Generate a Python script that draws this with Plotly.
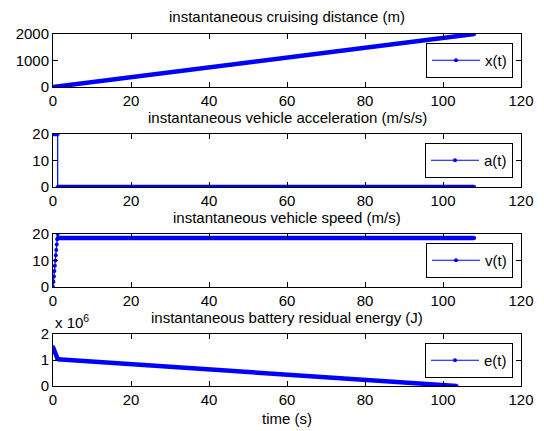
import plotly.graph_objects as go

# ---------------- data ----------------
X_T = [0, 108]
X_V = [0, 2000]

A_T = [0, 1.2, 1.2, 108]
A_V = [20, 20, 0, 0]

V_T = [0, 0.12, 0.24, 0.36, 0.48, 0.6, 0.72, 0.84, 0.96, 1.08, 1.2, 1.2, 108]
V_V = [0, 2, 4, 6, 8, 10, 12, 14, 16, 18, 20, 18.5, 18.5]

E_T = [0, 1.2, 103.5]
E_V = [1.5e6, 1.03e6, 0]

TITLES = [
    "instantaneous cruising distance (m)",
    "instantaneous vehicle acceleration (m/s/s)",
    "instantaneous vehicle speed (m/s)",
    "instantaneous battery residual energy (J)",
]
NAMES = ["x(t)", "a(t)", "v(t)", "e(t)"]
X_TICKS = [0, 20, 40, 60, 80, 100, 120]
Y_TICKS = [[0, 1000, 2000], [0, 10, 20], [0, 10, 20], [0, 1e6, 2e6]]
Y_TICKTEXT = [["0", "1000", "2000"], ["0", "10", "20"], ["0", "10", "20"], ["0", "1", "2"]]
Y_RANGES = [[0, 2000], [0, 20], [0, 20], [0, 2e6]]

SERIES = [(X_T, X_V), (A_T, A_V), (V_T, V_V), (E_T, E_V)]

# ---------------- layout geometry ----------------
W, H = 544, 431
L, R = 53, 23
TOPS = [34, 134, 234, 334]
BOTS = [87, 187, 287, 386]
FONT = "Liberation Sans, Arial, Helvetica, sans-serif"
FS = 15
BLUE = "rgb(0,0,255)"

fig = go.Figure()
layout = dict(
    width=W, height=H,
    margin=dict(l=L, r=R, t=0, b=0, autoexpand=False),
    paper_bgcolor="white", plot_bgcolor="white",
    font=dict(family=FONT, size=FS, color="black"),
    annotations=[],
)

for i, ((t, v), name) in enumerate(zip(SERIES, NAMES)):
    n = i + 1
    xa = "x" if n == 1 else f"x{n}"
    ya = "y" if n == 1 else f"y{n}"
    leg = "legend" if n == 1 else f"legend{n}"
    # thick (densely sampled) segments
    tt, vv = [], []
    for k in range(len(t) - 1):
        if t[k + 1] - t[k] > 0.5:
            tt += [t[k], t[k + 1], None]
            vv += [v[k], v[k + 1], None]
    fig.add_trace(go.Scatter(x=tt, y=vv, mode="lines", line=dict(color=BLUE, width=4.5),
                             showlegend=False, xaxis=xa, yaxis=ya, hoverinfo="skip"))
    fig.add_trace(go.Scatter(x=t, y=v, mode="lines+markers", name=name,
                             line=dict(color=BLUE, width=1.2),
                             marker=dict(color=BLUE, size=4),
                             xaxis=xa, yaxis=ya, legend=leg))
    dom = [1 - BOTS[i] / H, 1 - TOPS[i] / H]
    common = dict(showline=True, linecolor="black", linewidth=1, mirror="ticks",
                  ticks="inside", ticklen=5, tickcolor="black", showgrid=False,
                  zeroline=False, tickfont=dict(size=FS, family=FONT), automargin=False)
    layout[f"xaxis{n if n > 1 else ''}"] = dict(
        range=[0, 120], tickvals=X_TICKS, domain=[0, 1],
        anchor=ya, **common)
    layout[f"yaxis{n if n > 1 else ''}"] = dict(
        range=Y_RANGES[i], tickvals=Y_TICKS[i], ticktext=Y_TICKTEXT[i],
        domain=dom, anchor=xa, **common)
    layout[leg] = dict(
        x=(513 - L) / (W - L - R), xanchor="right",
        y=1 - (TOPS[i] + 9) / H, yanchor="top",
        bgcolor="white", bordercolor="black", borderwidth=1,
        font=dict(size=FS, family=FONT), itemwidth=48,
        tracegroupgap=0,
    )
    layout["annotations"].append(dict(
        text=TITLES[i], xref="paper", yref="paper", x=0.5, y=1 - (TOPS[i] - 17) / H,
        xanchor="center", yanchor="middle", showarrow=False,
        font=dict(size=FS, family=FONT)))

layout["annotations"].append(dict(
    text="x 10<sup>6</sup>", xref="paper", yref="paper", x=0, y=1 - 321 / H,
    xanchor="left", yanchor="middle", showarrow=False, font=dict(size=FS, family=FONT)))
layout["annotations"].append(dict(
    text="time (s)", xref="paper", yref="paper", x=0.5, y=1 - 418 / H,
    xanchor="center", yanchor="middle", showarrow=False, font=dict(size=FS, family=FONT)))

fig.update_layout(**layout)
fig.write_html("out.html")
